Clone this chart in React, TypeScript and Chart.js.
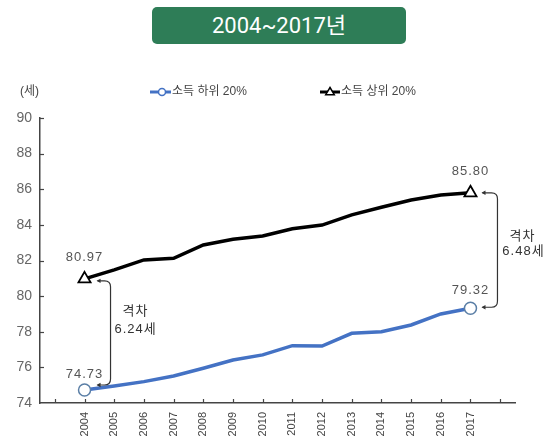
import React, { useEffect, useRef } from 'react';
import { Chart, registerables } from 'chart.js';

Chart.register(...registerables);

const years = ['2004', '2005', '2006', '2007', '2008', '2009', '2010', '2011', '2012', '2013', '2014', '2015', '2016', '2017'];
const lowIncome = [74.73, 74.95, 75.2, 75.52, 75.95, 76.41, 76.7, 77.22, 77.2, 77.91, 78.0, 78.38, 79.0, 79.32];
const highIncome = [80.97, 81.47, 82.03, 82.12, 82.87, 83.19, 83.38, 83.78, 83.99, 84.56, 84.99, 85.4, 85.68, 85.8];
const yMin = 74;
const yMax = 90;
const yStep = 2;
const lowLabel = '소득 하위 20%';
const highLabel = '소득 상위 20%';
const unitLabel = '(세)';
const titleText = '2004~2017년';
const gapFirst = ['격차', '6.24세'];
const gapLast = ['격차', '6.48세'];

const FONT = "'Liberation Sans', 'Noto Sans CJK KR', sans-serif";
const BLUE = '#4472c4';

function drawTriangle(ctx: CanvasRenderingContext2D, x: number, y: number, r: number) {
  ctx.beginPath();
  ctx.moveTo(x, y - r);
  ctx.lineTo(x + r * 0.95, y + r * 0.6);
  ctx.lineTo(x - r * 0.95, y + r * 0.6);
  ctx.closePath();
}

function drawBracket(ctx: CanvasRenderingContext2D, x0: number, x1: number, yTop: number, yBot: number) {
  const r = 6;
  ctx.save();
  ctx.strokeStyle = '#333';
  ctx.lineWidth = 1.2;
  ctx.beginPath();
  ctx.moveTo(x0, yTop);
  ctx.lineTo(x1 - r, yTop);
  ctx.quadraticCurveTo(x1, yTop, x1, yTop + r);
  ctx.lineTo(x1, yBot - r);
  ctx.quadraticCurveTo(x1, yBot, x1 - r, yBot);
  ctx.lineTo(x0, yBot);
  ctx.stroke();
  ctx.fillStyle = '#333';
  [yTop, yBot].forEach((yy) => {
    ctx.beginPath();
    ctx.moveTo(x0 - 1, yy);
    ctx.lineTo(x0 + 3, yy - 2.2);
    ctx.lineTo(x0 + 3, yy + 2.2);
    ctx.closePath();
    ctx.fill();
  });
  ctx.restore();
}

const overlayPlugin = {
  id: 'overlay',
  afterDraw(chart: any) {
    const ctx: CanvasRenderingContext2D = chart.ctx;
    const xs = chart.scales.x;
    const ys = chart.scales.y;
    const area = chart.chartArea;
    ctx.save();
    // inward ticks
    ctx.strokeStyle = '#444';
    ctx.lineWidth = 1.2;
    const n = chart.data.labels.length;
    for (let i = 0; i < n; i++) {
      const px = Math.round(xs.getPixelForValue(i)) + 0.5;
      ctx.beginPath();
      ctx.moveTo(px, area.bottom);
      ctx.lineTo(px, area.bottom - 4);
      ctx.stroke();
    }
    for (let v = yMin + yStep; v <= yMax; v += yStep) {
      const py = Math.round(ys.getPixelForValue(v)) + 0.5;
      ctx.beginPath();
      ctx.moveTo(area.left, py);
      ctx.lineTo(area.left + 4, py);
      ctx.stroke();
    }

    // legend
    ctx.font = `12px ${FONT}`;
    ctx.fillStyle = '#444';
    ctx.textBaseline = 'middle';
    ctx.textAlign = 'left';
    const ly = 92;
    ctx.fillText(unitLabel, 20, ly);
    ctx.strokeStyle = BLUE;
    ctx.lineWidth = 3;
    ctx.beginPath();
    ctx.moveTo(150, ly);
    ctx.lineTo(171, ly);
    ctx.stroke();
    ctx.beginPath();
    ctx.arc(162, ly, 3.5, 0, Math.PI * 2);
    ctx.fillStyle = '#fff';
    ctx.fill();
    ctx.lineWidth = 1.5;
    ctx.stroke();
    ctx.fillStyle = '#444';
    ctx.fillText(lowLabel, 172, ly);
    ctx.strokeStyle = '#000';
    ctx.lineWidth = 3;
    ctx.beginPath();
    ctx.moveTo(320, ly);
    ctx.lineTo(340, ly);
    ctx.stroke();
    drawTriangle(ctx, 330, ly, 4.5);
    ctx.fillStyle = '#fff';
    ctx.fill();
    ctx.lineWidth = 1.5;
    ctx.stroke();
    ctx.fillStyle = '#444';
    ctx.fillText(highLabel, 341, ly);

    // value labels
    const first = 1;
    const last = years.length;
    const xF = xs.getPixelForValue(first);
    const xL = xs.getPixelForValue(last);
    const hF = ys.getPixelForValue(highIncome[0]);
    const hL = ys.getPixelForValue(highIncome[years.length - 1]);
    const lF = ys.getPixelForValue(lowIncome[0]);
    const lL = ys.getPixelForValue(lowIncome[years.length - 1]);
    ctx.font = `13px ${FONT}`;
    ctx.fillStyle = '#555';
    ctx.textAlign = 'center';
    (ctx as any).letterSpacing = '1px';
    ctx.fillText(highIncome[0].toFixed(2), xF, hF - 21);
    ctx.fillText(lowIncome[0].toFixed(2), xF, lF - 16);
    ctx.fillText(highIncome[years.length - 1].toFixed(2), xL, hL - 21);
    ctx.fillText(lowIncome[years.length - 1].toFixed(2), xL, lL - 18);

    // brackets
    drawBracket(ctx, xF + 13, xF + 26, hF + 2, lF - 5);
    drawBracket(ctx, xL + 12, xL + 27, hL, lL - 1);
    ctx.font = `13px ${FONT}`;
    ctx.fillStyle = '#333';
    ctx.fillText(gapFirst[0], xF + 51, hF + 33);
    ctx.fillText(gapFirst[1], xF + 51, hF + 51);
    ctx.fillText(gapLast[0], xL + 52, hL + 44);
    ctx.fillText(gapLast[1], xL + 53, hL + 59);
    ctx.restore();
  },
};

export default function App() {
  const ref = useRef<HTMLCanvasElement | null>(null);
  useEffect(() => {
    if (!ref.current) return;
    const pr = (c: any) => (c.dataIndex === 1 || c.dataIndex === years.length ? 6 : 0);
    const chart = new Chart(ref.current, {
      type: 'line',
      data: {
        labels: ['', ...years, ''],
        datasets: [
          {
            label: lowLabel,
            data: [null, ...lowIncome, null],
            borderColor: BLUE,
            borderWidth: 3.5,
            pointStyle: 'circle',
            pointRadius: pr,
            pointHoverRadius: pr,
            pointBackgroundColor: '#fff',
            pointBorderColor: '#5b7fa6',
            pointBorderWidth: 1.5,
            tension: 0,
          },
          {
            label: highLabel,
            data: [null, ...highIncome, null],
            borderColor: '#000',
            borderWidth: 3.5,
            pointStyle: 'triangle',
            pointRadius: (c: any) => (c.dataIndex === 1 || c.dataIndex === years.length ? 7 : 0),
            pointBackgroundColor: '#fff',
            pointBorderColor: '#000',
            pointBorderWidth: 1.8,
            tension: 0,
          },
        ],
      },
      options: {
        responsive: false,
        animation: false,
        events: [],
        layout: { padding: { top: 118, right: 36, left: 0, bottom: 0 } },
        plugins: { legend: { display: false }, tooltip: { enabled: false } },
        scales: {
          x: {
            type: 'category',
            offset: true,
            grid: { drawOnChartArea: false, drawTicks: false },
            border: { display: true, color: '#444', width: 1.5 },
            ticks: {
              autoSkip: false,
              minRotation: 90,
              maxRotation: 90,
              padding: 9,
              color: '#444',
              font: { size: 11, family: FONT },
            },
            afterFit: (s: any) => {
              s.height = 38;
            },
          },
          y: {
            min: yMin,
            max: yMax,
            grid: { drawOnChartArea: false, drawTicks: false },
            border: { display: true, color: '#444', width: 1.5 },
            ticks: {
              stepSize: yStep,
              padding: 8,
              color: '#666',
              font: { size: 14, family: FONT },
            },
            afterFit: (s: any) => {
              s.width = 40;
            },
          },
        },
      },
      plugins: [overlayPlugin],
    } as any);
    return () => chart.destroy();
  }, []);

  return (
    <div style={{ position: 'fixed', left: 0, top: 0, width: 551, height: 441, background: '#fff' }}>
      <canvas ref={ref} width={551} height={441} style={{ position: 'absolute', left: 0, top: 0 }} />
      <div
        style={{
          position: 'absolute',
          left: 152,
          top: 7,
          width: 254,
          height: 37,
          background: '#2e7d57',
          borderRadius: 5,
          color: '#fff',
          fontFamily: "Roboto, 'Noto Sans CJK KR', sans-serif",
          fontWeight: 400,
          fontSize: 22,
          lineHeight: '37px',
          textAlign: 'center',
        }}
      >
        {titleText}
      </div>
    </div>
  );
}
